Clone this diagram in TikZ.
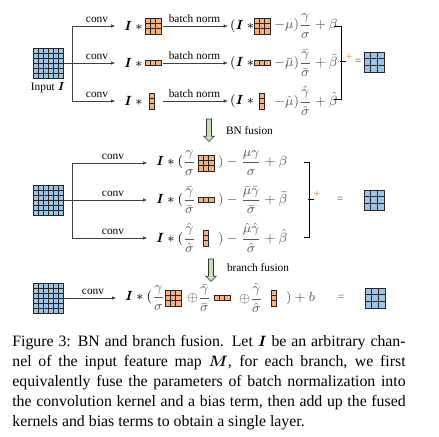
\documentclass[tikz,border=0pt]{standalone}
\usepackage{amsmath}
\usepackage{fontspec}
\setmainfont{Liberation Serif}
\usetikzlibrary{arrows.meta,calc,shapes.arrows}

\definecolor{mapblue}{HTML}{9DC3E6}
\definecolor{kernorange}{HTML}{F4B183}
\definecolor{fusegreen}{HTML}{C5E0B4}
\definecolor{plusorange}{HTML}{D9822B}

\tikzset{
    cellgrid/.style n args={3}{% columns, rows, cell size (px)
        draw=black!85, line width=0.5pt, inner sep=0pt, outer sep=0pt,
        minimum width={#1*#3*0.6pt}, minimum height={#2*#3*0.6pt}
    },
    fmap/.style 2 args={cellgrid={#1}{#2}{5}, fill=mapblue},
    outmap/.style={cellgrid={3}{3}{6.7}, fill=mapblue},
    kernel/.style 2 args={cellgrid={#1}{#2}{5.3}, fill=kernorange},
    cellline/.style={draw=black!85, line width=0.5pt},
    conn/.style={draw=black!75, line width=0.5pt},
    tip/.style={-{Latex[length=2.6pt,width=2.2pt]}},
    lbl/.style={font=\fontsize{6.8}{8}\selectfont, inner sep=1pt},
    expr/.style={font=\fontsize{7.6}{9}\selectfont, inner sep=1pt, anchor=west},
    soft/.style={text=black!65},
    brace/.style={draw=black, line width=0.6pt},
    fusearrow/.style={single arrow, draw=black!80, fill=fusegreen, rotate=-90,
        minimum height=13.5pt, inner sep=1.3pt, single arrow head extend=1.6pt,
        line width=0.4pt},
}

% inner lines of a grid node: name, columns, rows
\newcommand\cellsof[3]{%
    \foreach \c in {1,...,#2}
        \draw[cellline] ($(#1.north west)!{\c/#2}!(#1.north east)$)
            -- ($(#1.south west)!{\c/#2}!(#1.south east)$);
    \foreach \r in {1,...,#3}
        \draw[cellline] ($(#1.north west)!{\r/#3}!(#1.south west)$)
            -- ($(#1.north east)!{\r/#3}!(#1.south east)$);
}

\begin{document}
\begin{tikzpicture}[x=0.6pt, y=-0.6pt]
\useasboundingbox (0,0) rectangle (439,437);

% three branches, conv + batch norm
\node[fmap={6}{6}] (inA) at (48,63) {};
\node[lbl] (inlbl) at (48,88) {Input $\boldsymbol{I}$};
\coordinate (forkA) at (72,63);

\node[expr] (iA1) at (122,26) {$\boldsymbol{I}*{}$};
\node[expr] (iA2) at (122,63) {$\boldsymbol{I}*{}$};
\node[expr] (iA3) at (122,101) {$\boldsymbol{I}*{}$};
\node[kernel={3}{3}] (kA1) at (153,26) {};
\node[kernel={3}{1}] (kA2) at (153,63) {};
\node[kernel={1}{3}] (kA3) at (152,101) {};

\node[expr] (bA1) at (228,26) {$(\boldsymbol{I}*{}$};
\node[expr] (bA2) at (228,63) {$(\boldsymbol{I}*{}$};
\node[expr] (bA3) at (228,101) {$(\boldsymbol{I}*{}$};
\node[kernel={3}{3}] (qA1) at (262,26) {};
\node[kernel={3}{1}] (qA2) at (262,63) {};
\node[kernel={1}{3}] (qA3) at (262,101) {};
\node[expr, soft] (tA1) at (272,26) {$-\mu)\dfrac{\gamma}{\sigma}+\beta$};
\node[expr, soft] (tA2) at (272,63) {$-\bar{\mu})\dfrac{\bar{\gamma}}{\bar{\sigma}}+\bar{\beta}$};
\node[expr, soft] (tA3) at (272,101) {$-\hat{\mu})\dfrac{\hat{\gamma}}{\hat{\sigma}}+\hat{\beta}$};

\draw[conn] (inA.east) -- (forkA);
\draw[conn, tip, shorten >=4pt] (forkA) |- node[lbl, above=1pt, pos=0.75] {conv} (iA1);
\draw[conn, tip, shorten >=4pt] (forkA) -- node[lbl, above=1pt] {conv} (iA2);
\draw[conn, tip, shorten >=4pt] (forkA) |- node[lbl, above=1pt, pos=0.75] {conv} (iA3);

\draw[conn, tip, shorten <=1.2pt] (kA1.east) -- node[lbl, above=1pt] {batch norm} (bA1);
\draw[conn, tip, shorten <=1.2pt] (kA1.east |- kA2) -- node[lbl, above=1pt] {batch norm} (bA2);
\draw[conn, tip, shorten <=1.2pt] (kA1.east |- kA3) -- node[lbl, above=1pt] {batch norm} (bA3);

\draw[brace] (334,27) -- (341,27) -- (341,100) -- (334,100);
\draw[brace] (340,62) -- (346,62);
\node[lbl, text=plusorange] (plusA) at (349,57) {+};
\node[lbl, soft] (eqA) at (358,62) {=};
\node[outmap] (outA) at (374,62) {};

\foreach \g/\nc/\nr in {inA/6/6, kA1/3/3, kA2/3/1, kA3/1/3,
        qA1/3/3, qA2/3/1, qA3/1/3, outA/3/3}
    {\cellsof{\g}{\nc}{\nr}}

\node[fusearrow] (bnfuse) at (209,129) {};
\node[lbl, anchor=west] (bnlbl) at (224,131) {BN fusion};

% BN folded into each kernel
\node[fmap={6}{6}] (inB) at (48,200) {};
\coordinate (forkB) at (72,200);

\node[expr] (cB1) at (154,163) {$\boldsymbol{I}*(\color{black!65}\dfrac{\gamma}{\sigma}$};
\node[expr] (cB2) at (154,200) {$\boldsymbol{I}*(\color{black!65}\dfrac{\bar{\gamma}}{\bar{\sigma}}$};
\node[expr] (cB3) at (154,238) {$\boldsymbol{I}*(\color{black!65}\dfrac{\hat{\gamma}}{\hat{\sigma}}$};
\node[kernel={3}{3}] (kB1) at (206,163) {};
\node[kernel={3}{1}] (kB2) at (206,200) {};
\node[kernel={1}{3}] (kB3) at (206,238) {};
\node[expr, soft] (dB1) at (216,163) {$)-\dfrac{\mu\gamma}{\sigma}+\beta$};
\node[expr, soft] (dB2) at (216,200) {$)-\dfrac{\bar{\mu}\bar{\gamma}}{\bar{\sigma}}+\bar{\beta}$};
\node[expr, soft] (dB3) at (216,238) {$)-\dfrac{\hat{\mu}\hat{\gamma}}{\hat{\sigma}}+\hat{\beta}$};

\draw[conn] (inB.east) -- (forkB);
\draw[conn, tip, shorten >=4pt] (forkB) |- node[lbl, above=1pt, pos=0.75] {conv} (cB1);
\draw[conn, tip, shorten >=4pt] (forkB) -- node[lbl, above=1pt] {conv} (cB2);
\draw[conn, tip, shorten >=4pt] (forkB) |- node[lbl, above=1pt, pos=0.75] {conv} (cB3);

\draw[brace] (304,163) -- (309,163) -- (309,238) -- (304,238);
\draw[brace] (308,200) -- (314,200);
\node[lbl, text=plusorange] (plusB) at (317,194) {+};
\node[lbl, soft] (eqB) at (340,200) {=};
\node[outmap] (outB) at (374,200) {};

\foreach \g/\nc/\nr in {inB/6/6, kB1/3/3, kB2/3/1, kB3/1/3, outB/3/3}
    {\cellsof{\g}{\nc}{\nr}}

\node[fusearrow] (brfuse) at (211,269) {};
\node[lbl, anchor=west] (brlbl) at (225,268) {branch fusion};

% single fused layer
\node[fmap={6}{6}] (inC) at (48,298) {};
\node[expr] (eC1) at (123,298) {$\boldsymbol{I}*(\color{black!65}\dfrac{\gamma}{\sigma}$};
\node[kernel={3}{3}] (kC1) at (173,298) {};
\node[expr, soft] (eC2) at (185,298) {$\oplus\dfrac{\bar{\gamma}}{\bar{\sigma}}$};
\node[kernel={3}{1}] (kC2) at (222,298) {};
\node[expr, soft] (eC3) at (237,298) {$\oplus\dfrac{\hat{\gamma}}{\hat{\sigma}}$};
\node[kernel={1}{3}] (kC3) at (274,298) {};
\node[expr, soft] (eC4) at (284,298) {$)+b$};
\draw[conn, tip, shorten >=4pt] (inC.east) -- node[lbl, above=1pt] {conv} (eC1);
\node[lbl, soft] (eqC) at (341,298) {=};
\node[outmap] (outC) at (375,298) {};

\foreach \g/\nc/\nr in {inC/6/6, kC1/3/3, kC2/3/1, kC3/1/3, outC/3/3}
    {\cellsof{\g}{\nc}{\nr}}

% caption
\node[anchor=north west, inner sep=0pt, align=left, font=\fontsize{9.5}{12}\selectfont] (caption) at (12,335) {%
    \makebox[236pt][s]{Figure 3: BN and branch fusion. Let $\boldsymbol{I}$ be an arbitrary chan-}\\
    \makebox[236pt][s]{nel of the input feature map $\boldsymbol{M}$, for each branch, we first}\\
    \makebox[236pt][s]{equivalently fuse the parameters of batch normalization into}\\
    \makebox[236pt][s]{the convolution kernel and a bias term, then add up the fused}\\
    kernels and bias terms to obtain a single layer.};
\end{tikzpicture}
\end{document}
